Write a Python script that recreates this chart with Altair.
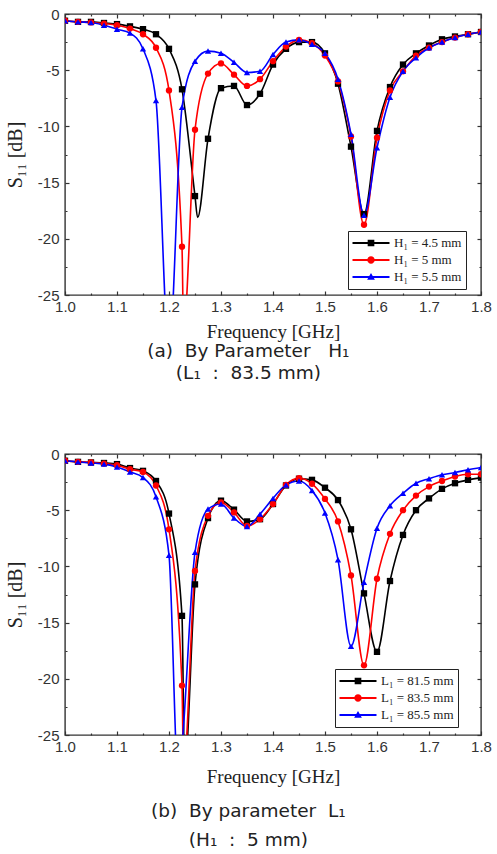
import altair as alt
import pandas as pd

# ---------------- data ----------------
FREQ = [1.0, 1.025, 1.05, 1.075, 1.1, 1.125, 1.15, 1.175, 1.2, 1.225, 1.25,
        1.275, 1.3, 1.325, 1.35, 1.375, 1.4, 1.425, 1.45, 1.475, 1.5, 1.525,
        1.55, 1.575, 1.6, 1.625, 1.65, 1.675, 1.7, 1.725, 1.75, 1.775, 1.8]

TOP_NAMES = ["H\u2081 = 4.5 mm", "H\u2081 = 5 mm", "H\u2081 = 5.5 mm"]
TOP_H45 = [-0.6, -0.7, -0.7, -0.8, -0.9, -1.1, -1.35, -1.8, -3.1, -6.7, -16.2,
           -11.1, -6.6, -6.4, -8.1, -7.1, -4.5, -3.1, -2.5, -2.5, -3.5, -6.2,
           -11.8, -17.8, -10.4, -6.5, -4.5, -3.5, -2.8, -2.25, -2.0, -1.8, -1.6]
TOP_H50 = [-0.6, -0.7, -0.75, -0.85, -1.0, -1.3, -1.8, -3.0, -6.8, -20.7, -10.3,
           -5.3, -4.4, -5.4, -6.4, -5.8, -4.2, -2.9, -2.3, -2.6, -3.7, -6.0,
           -10.9, -18.75, -11.0, -6.8, -5.1, -3.7, -3.0, -2.5, -2.1, -1.8, -1.6]
TOP_H55 = [-0.6, -0.7, -0.75, -1.0, -1.35, -1.7, -3.1, -7.7, -30.0, -8.3, -4.2,
           -3.3, -3.5, -4.3, -5.2, -5.1, -3.6, -2.5, -2.3, -2.7, -3.5, -5.8,
           -10.7, -17.9, -11.9, -7.4, -5.1, -3.9, -3.0, -2.5, -2.1, -1.8, -1.6]
# extra curve points (no marker) at the resonance minima
TOP_H45_DIP_F, TOP_H45_DIP_S = [1.255], [-18.1]
TOP_H50_DIP_F, TOP_H50_DIP_S = [1.228], [-28.0]
TOP_H55_DIP_F, TOP_H55_DIP_S = [], []

BOT_NAMES = ["L\u2081 = 81.5 mm", "L\u2081 = 83.5 mm", "L\u2081 = 85.5 mm"]
BOT_L815 = [-0.6, -0.7, -0.75, -0.8, -0.9, -1.25, -1.5, -2.4, -5.3, -14.4, -11.6,
            -5.7, -4.15, -4.95, -6.0, -5.8, -4.45, -2.8, -2.2, -2.3, -3.0, -4.1,
            -6.7, -12.4, -17.6, -11.3, -7.2, -5.0, -3.95, -3.1, -2.6, -2.3, -2.1]
BOT_L835 = [-0.6, -0.7, -0.75, -0.85, -1.0, -1.35, -1.6, -2.8, -6.7, -20.6, -10.4,
            -5.5, -4.3, -5.2, -6.4, -5.8, -4.45, -2.75, -2.15, -2.65, -4.0, -6.0,
            -10.8, -18.8, -11.1, -7.1, -5.0, -3.7, -2.9, -2.4, -2.0, -1.8, -1.8]
BOT_L855 = [-0.6, -0.7, -0.8, -0.9, -1.15, -1.6, -2.1, -3.8, -9.0, -26.0, -8.75,
            -4.9, -4.45, -5.7, -6.45, -5.35, -3.95, -2.75, -2.4, -3.25, -5.25, -9.4,
            -17.1, -11.4, -6.6, -4.6, -3.5, -2.6, -2.2, -1.85, -1.65, -1.4, -1.2]
BOT_L815_DIP_F, BOT_L815_DIP_S = [1.230], [-28.0]
BOT_L835_DIP_F, BOT_L835_DIP_S = [1.228], [-28.0]
BOT_L855_DIP_F, BOT_L855_DIP_S = [1.218], [-29.0]

X_TICKS = [1.0, 1.05, 1.1, 1.15, 1.2, 1.25, 1.3, 1.35, 1.4, 1.45, 1.5, 1.55,
           1.6, 1.65, 1.7, 1.75, 1.8]
Y_TICKS = [0, -2.5, -5, -7.5, -10, -12.5, -15, -17.5, -20, -22.5, -25]

NB = "\u00a0"
TOP_CAPTION = f"(a){NB}{NB}By Parameter{NB}{NB}{NB}H\u2081"
TOP_SUB = f"(L\u2081{NB}{NB}:{NB}{NB}83.5 mm)"
BOT_CAPTION = f"(b){NB}{NB}By parameter{NB}{NB}L\u2081"
BOT_SUB = f"(H\u2081{NB}{NB}:{NB}{NB}5 mm)"

COLORS = ["#000000", "#ff0000", "#0000ff"]
SHAPES = ["square", "circle", "triangle-up"]
BAR = "M-1,-0.05H1V0.05H-1Z "
LEGEND_SHAPES = [
    BAR + "M-0.18,-0.18H0.18V0.18H-0.18Z",
    BAR + "M0.2,0A0.2,0.2 0 1,1 -0.2,0A0.2,0.2 0 1,1 0.2,0Z",
    BAR + "M0,-0.22L0.21,0.15L-0.21,0.15Z",
]

X_MINOR = "abs(datum.value*10 - round(datum.value*10)) > 0.001"
Y_MINOR = "abs(datum.value % 5) > 0.01"
TICK_COLOR = "#333333"


def tick_dash(test):
    return {"condition": {"test": test, "value": [0, 2, 2, 20]}, "value": [4, 0]}


def panel(names, series, dips, caption, sub, leg_x, leg_y, xt_pad, title_offset, sub_pad):
    rows = []
    for name, vals, (dfs, dss) in zip(names, series, dips):
        for f, s in zip(FREQ, vals):
            rows.append({"f": f, "S": s, "series": name, "kind": "m"})
        for f, s in zip(dfs, dss):
            rows.append({"f": f, "S": s, "series": name, "kind": "x"})
    df = pd.DataFrame(rows)

    xs = alt.Scale(domain=[1.0, 1.8], nice=False, zero=False)
    ys = alt.Scale(domain=[-25, 0], nice=False, zero=False)
    cs = alt.Scale(domain=names, range=COLORS)

    x_bottom = alt.Axis(
        orient="bottom", values=X_TICKS, offset=-4, tickSize=4, domain=False,
        grid=False, labelFlush=False, labelOverlap=False,
        labelExpr=f"({X_MINOR}) ? '' : format(datum.value, '.1f')",
        labelFont="Liberation Sans", labelFontSize=15, labelColor="#333333",
        labelPadding=4, tickColor=TICK_COLOR, tickWidth=1.2,
        tickDash=tick_dash(X_MINOR),
        title="Frequency [GHz]", titleFont="Liberation Serif", titleFontSize=19,
        titleFontWeight="normal", titleColor="#222222", titlePadding=xt_pad,
    )
    y_left = alt.Axis(
        orient="left", values=Y_TICKS, offset=-4, tickSize=4, domain=False,
        grid=False, labelFlush=False, labelOverlap=False,
        labelExpr=f"({Y_MINOR}) ? '' : toString(datum.value)",
        labelFont="Liberation Sans", labelFontSize=15, labelColor="#333333",
        labelPadding=6, tickColor=TICK_COLOR, tickWidth=1.2,
        tickDash=tick_dash(Y_MINOR),
        title="S\u2081\u2081 [dB]", titleFont="Liberation Serif", titleFontSize=20,
        titleFontWeight="normal", titleColor="#222222", titlePadding=12,
    )
    x_top = alt.Axis(
        orient="top", values=X_TICKS, offset=-4, tickSize=4, domain=False,
        grid=False, labels=False, title=None, tickColor=TICK_COLOR,
        tickWidth=1.2, tickDash=tick_dash(X_MINOR),
    )
    y_right = alt.Axis(
        orient="right", values=Y_TICKS, offset=-4, tickSize=4, domain=False,
        grid=False, labels=False, title=None, tickColor=TICK_COLOR,
        tickWidth=1.2, tickDash=tick_dash(Y_MINOR),
    )

    legend = alt.Legend(
        orient="none", legendX=leg_x, legendY=leg_y, title=None, padding=4,
        strokeColor="#222222", fillColor="white", symbolSize=1369,
        clipHeight=16, rowPadding=1, labelFont="Liberation Serif",
        labelFontSize=13, labelColor="#222222", labelOffset=4,
        symbolOpacity=1, symbolStrokeWidth=0.8,
    )

    base = alt.Chart(df)
    lines = base.mark_line(interpolate="monotone", strokeWidth=1.6, clip=True).encode(
        x=alt.X("f:Q", scale=xs, axis=x_bottom),
        y=alt.Y("S:Q", scale=ys, axis=y_left),
        color=alt.Color("series:N", scale=cs, legend=None),
        order=alt.Order("f:Q"),
    )
    points = base.transform_filter(alt.datum.kind == "m").mark_point(
        filled=True, opacity=1, size=40, clip=True
    ).encode(
        x=alt.X("f:Q", scale=xs, axis=x_top),
        y=alt.Y("S:Q", scale=ys, axis=y_right),
        color=alt.Color("series:N", scale=cs, legend=None),
        shape=alt.Shape("series:N", scale=alt.Scale(domain=names, range=SHAPES), legend=None),
    )
    legend_layer = base.transform_filter(alt.datum.S < -1000).mark_point(
        filled=True, opacity=1
    ).encode(
        x=alt.X("f:Q", scale=xs, axis=None),
        y=alt.Y("S:Q", scale=ys, axis=None),
        color=alt.Color("series:N", scale=alt.Scale(domain=names, range=COLORS), legend=legend),
        shape=alt.Shape("series:N", scale=alt.Scale(domain=names, range=LEGEND_SHAPES), legend=legend),
    )
    return alt.layer(lines, points, legend_layer).resolve_scale(
        color="independent", shape="independent"
    ).resolve_axis(x="independent", y="independent").properties(
        width=416, height=281,
        title=alt.TitleParams(
            text=caption, subtitle=sub, orient="bottom", anchor="middle",
            frame="bounds", font="DejaVu Sans", fontSize=18.5, fontWeight="normal",
            color="#222222", offset=title_offset,
            subtitleFont="DejaVu Sans", subtitleFontSize=18.5,
            subtitleFontWeight="normal", subtitleColor="#222222",
            subtitlePadding=sub_pad,
        ),
    )


top = panel(TOP_NAMES, [TOP_H45, TOP_H50, TOP_H55],
            [(TOP_H45_DIP_F, TOP_H45_DIP_S), (TOP_H50_DIP_F, TOP_H50_DIP_S),
             (TOP_H55_DIP_F, TOP_H55_DIP_S)],
            TOP_CAPTION, TOP_SUB, 283, 217, 8, 1, 3)
bottom = panel(BOT_NAMES, [BOT_L815, BOT_L835, BOT_L855],
               [(BOT_L815_DIP_F, BOT_L815_DIP_S), (BOT_L835_DIP_F, BOT_L835_DIP_S),
                (BOT_L855_DIP_F, BOT_L855_DIP_S)],
               BOT_CAPTION, BOT_SUB, 270, 215, 13, 16, 10)

chart = alt.vconcat(top, bottom, spacing=63).configure(
    padding={"left": 4, "top": 6, "right": 0, "bottom": 0},
    background="white",
).configure_view(stroke="#333333", strokeWidth=1.4)

chart.save("out.html", embed_options={"renderer": "svg", "actions": False})
